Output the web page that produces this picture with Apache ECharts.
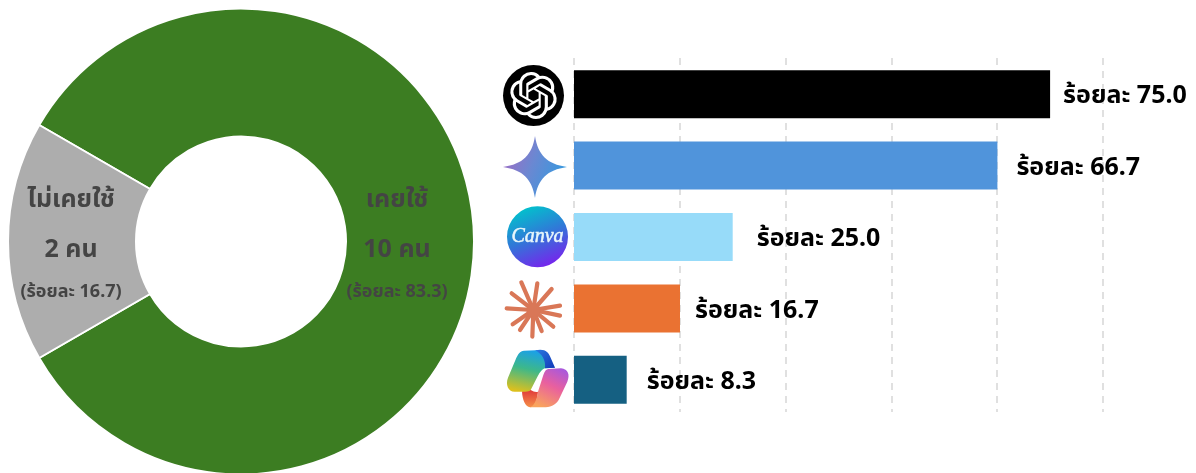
<!DOCTYPE html>
<html><head><meta charset="utf-8">
<style>html,body{margin:0;padding:0;background:#fff}#c{width:1196px;height:473px}</style>
<script src="https://cdn.jsdelivr.net/npm/echarts@6/dist/echarts.min.js"></script>
</head><body><div id="c"></div>
<script>
const usageNames = ['เคยใช้', 'ไม่เคยใช้'];
const usageCounts = [10, 2];
const usagePercents = ['83.3', '16.7'];
const usageColors = ['#3c7d22', '#adadad'];
const tools = ['ChatGPT', 'Gemini', 'Canva', 'Claude', 'Copilot'];
const toolPercents = [75.0, 66.7, 25.0, 16.7, 8.3];
const toolColors = ['#000000', '#5094db', '#97dbf9', '#ea7232', '#156082'];
const labelGaps = [13, 19, 24, 15, 20];
const THAI = '"Noto Sans","Noto Sans Thai","Noto Sans CJK SC","DejaVu Sans",sans-serif';

const openaiPath = "M22.2819 9.8211a5.9847 5.9847 0 0 0-.5157-4.9108 6.0462 6.0462 0 0 0-6.5098-2.9A6.0651 6.0651 0 0 0 4.9807 4.1818a5.9847 5.9847 0 0 0-3.9977 2.9 6.0462 6.0462 0 0 0 .7427 7.0966 5.98 5.98 0 0 0 .511 4.9107 6.051 6.051 0 0 0 6.5146 2.9001A5.9847 5.9847 0 0 0 13.2599 24a6.0557 6.0557 0 0 0 5.7718-4.2058 5.9894 5.9894 0 0 0 3.9977-2.9001 6.0557 6.0557 0 0 0-.7475-7.0729zm-9.022 12.6081a4.4755 4.4755 0 0 1-2.8764-1.0408l.1419-.0804 4.7783-2.7582a.7948.7948 0 0 0 .3927-.6813v-6.7369l2.02 1.1686a.071.071 0 0 1 .038.052v5.5826a4.504 4.504 0 0 1-4.4945 4.4944zm-9.6607-4.1254a4.4708 4.4708 0 0 1-.5346-3.0137l.142.0852 4.783 2.7582a.7712.7712 0 0 0 .7806 0l5.8428-3.3685v2.3324a.0804.0804 0 0 1-.0332.0615L9.74 19.9502a4.4992 4.4992 0 0 1-6.1408-1.6464zM2.3408 7.8956a4.485 4.485 0 0 1 2.3655-1.9728V11.6a.7664.7664 0 0 0 .3879.6765l5.8144 3.3543-2.0201 1.1685a.0757.0757 0 0 1-.071 0l-4.8303-2.7865A4.504 4.504 0 0 1 2.3408 7.872zm16.5963 3.8558L13.1038 8.364 15.1192 7.2a.0757.0757 0 0 1 .071 0l4.8303 2.7913a4.4944 4.4944 0 0 1-.6765 8.1042v-5.6772a.79.79 0 0 0-.407-.667zm2.0107-3.0231l-.142-.0852-4.7735-2.7818a.7759.7759 0 0 0-.7854 0L9.409 9.2297V6.8974a.0662.0662 0 0 1 .0284-.0615l4.8303-2.7866a4.4992 4.4992 0 0 1 6.6802 4.66zM8.3065 12.863l-2.02-1.1638a.0804.0804 0 0 1-.038-.0567V6.0742a4.4992 4.4992 0 0 1 7.3757-3.4537l-.142.0805L8.704 5.459a.7948.7948 0 0 0-.3927.6813zm1.0976-2.3654l2.602-1.4998 2.6069 1.4998v2.9994l-2.5974 1.4997-2.6067-1.4997Z";
const icons = {
  openai: openaiPath,
  gemini: 'M0 -31C3 -12 12 -3 32 0C12 3 3 12 0 31C-3 12 -12 3 -32 0C-12 -3 -3 -12 0 -31Z',
  copL: 'M72 17L125 15L165 68L135 70C125 72 118 85 110 100L92 135C88 139 84 140 76 140L44 140C24 140 16 118 24 98L46 46C54 26 60 19 72 17Z',
  copB: 'M105 16C135 10 145 20 152 38L165 68L135 70C138 45 125 25 105 16Z',
  copR: 'M145 72L183 70C205 72 210 90 202 110L176 165C165 182 150 187 130 187L90 187C104 180 110 165 114 140L130 90C134 78 139 73 145 72Z',
  copO: 'M66 139L92 135C100 140 108 142 114 140C112 165 105 185 90 187C76 185 67 165 66 139Z'
};
Object.keys(icons).forEach(k=>echarts.graphic.registerShape(k, echarts.graphic.extendPath(icons[k], {})));

const claudeEnds = [[64,22],[112,25],[155,42],[180,92],[180,122],[160,155],[125,168],[97,185],[60,165],[38,148],[20,100],[35,55]];
const LG = (x,y,x2,y2,stops)=>new echarts.graphic.LinearGradient(x,y,x2,y2,stops.map(c=>({offset:c[0],color:c[1]})));
const zx = v=>500+v/3, zy = v=>275+v/3;
const cop = {x:500,y:345,scaleX:1/3,scaleY:1/3};
const hiddenAxis = {axisLabel:{show:false}, axisLine:{show:false}, axisTick:{show:false}};

const chart = echarts.init(document.getElementById('c'), null, {renderer:'canvas'});
chart.setOption({
  backgroundColor:'#fff',
  animation:false,
  grid:[{left:574, top:58.5, width:529, height:357},
        {left:574, top:58, width:529, height:354}],
  xAxis:[{type:'value', min:0, max:100/1.2, interval:100/6, gridIndex:0, ...hiddenAxis, splitLine:{show:false}},
         {type:'value', min:0, max:100/1.2, interval:100/6, gridIndex:1, ...hiddenAxis,
          splitLine:{show:true, lineStyle:{type:[7,6], color:'#d6d6d6', width:1.5}}}],
  yAxis:[{type:'category', inverse:true, data:tools, gridIndex:0, ...hiddenAxis, splitLine:{show:false}},
         {type:'category', data:[], gridIndex:1, ...hiddenAxis, splitLine:{show:false}}],
  series:[
    {type:'pie', center:[241,241.5], radius:[105,233], startAngle:150, clockwise:true,
     itemStyle:{borderColor:'#fff', borderWidth:2}, labelLine:{show:false}, emphasis:{disabled:true},
     data:usageNames.map((n,i)=>({name:n, value:usageCounts[i], itemStyle:{color:usageColors[i]},
       label:{show:true, position:'inside', offset:i===0?[-16,0]:[2,0],
         formatter:`{a|${n}}\n{b|${usageCounts[i]} คน}\n{c|(ร้อยละ ${usagePercents[i]})}`,
         rich:{a:{fontFamily:THAI,fontSize:25,fontWeight:'bold',color:'#444',lineHeight:50},
               b:{fontFamily:THAI,fontSize:25,fontWeight:'bold',color:'#444',lineHeight:50},
               c:{fontFamily:THAI,fontSize:18,fontWeight:'bold',color:'#444',lineHeight:34}}}}))
    },
    {type:'bar', xAxisIndex:0, yAxisIndex:0,
     data:toolPercents.map((v,i)=>({value:v, itemStyle:{color:toolColors[i]},
       label:{distance:labelGaps[i]}})),
     barWidth:48, emphasis:{disabled:true},
     label:{show:true, position:'right', offset:[0,2], formatter:p=>`ร้อยละ ${p.value.toFixed(1)}`,
       fontFamily:THAI, fontSize:25, fontWeight:'bold', color:'#000'}}
  ],
  graphic:[
    {type:'circle', shape:{cx:533.5,cy:95.5,r:30.5}, style:{fill:'#000'}},
    {type:'openai', x:510, y:72, scaleX:47/24, scaleY:47/24, style:{fill:'#fff'}},
    {type:'gemini', x:535, y:167, style:{fill:LG(0,0.3,1,0.7,[[0,'#a06cc4'],[0.45,'#6a88d2'],[1,'#2f9be0']])}},
    {type:'circle', shape:{cx:537.5,cy:236.7,r:30.5},
      style:{fill:LG(0.3,0,0.7,1,[[0,'#00c4cc'],[0.5,'#3276d8'],[1,'#7a20ee']])}},
    {type:'text', x:537.5, y:237, style:{text:'Canva', fill:'#e8f6fb', stroke:'#e8f6fb', lineWidth:0.5, font:'italic 20px "Liberation Serif"', align:'center', verticalAlign:'middle'}},
    ...claudeEnds.map(e=>({type:'line', shape:{x1:zx(100),y1:zy(105),x2:zx(e[0]),y2:zy(e[1])},
      style:{stroke:'#d97757', lineWidth:4.2, lineCap:'round'}})),
    {type:'circle', shape:{cx:zx(100),cy:zy(105),r:7}, style:{fill:'#d97757'}},
    {type:'copO', ...cop, style:{fill:LG(0.5,0,0.5,1,[[0,'#e03a3a'],[1,'#f59048']])}},
    {type:'copL', ...cop, style:{fill:LG(0.5,0,0.3,1,[[0,'#1aa0e8'],[0.45,'#3db88a'],[1,'#dcc01e']])}},
    {type:'copB', ...cop, style:{fill:LG(0,0,1,1,[[0,'#2a7ae0'],[1,'#1238b8']])}},
    {type:'copR', ...cop, style:{fill:LG(0.8,0,0.3,1,[[0,'#a958dc'],[0.45,'#e9609e'],[1,'#f9a45c']])}}
  ]
});
</script></body></html>
